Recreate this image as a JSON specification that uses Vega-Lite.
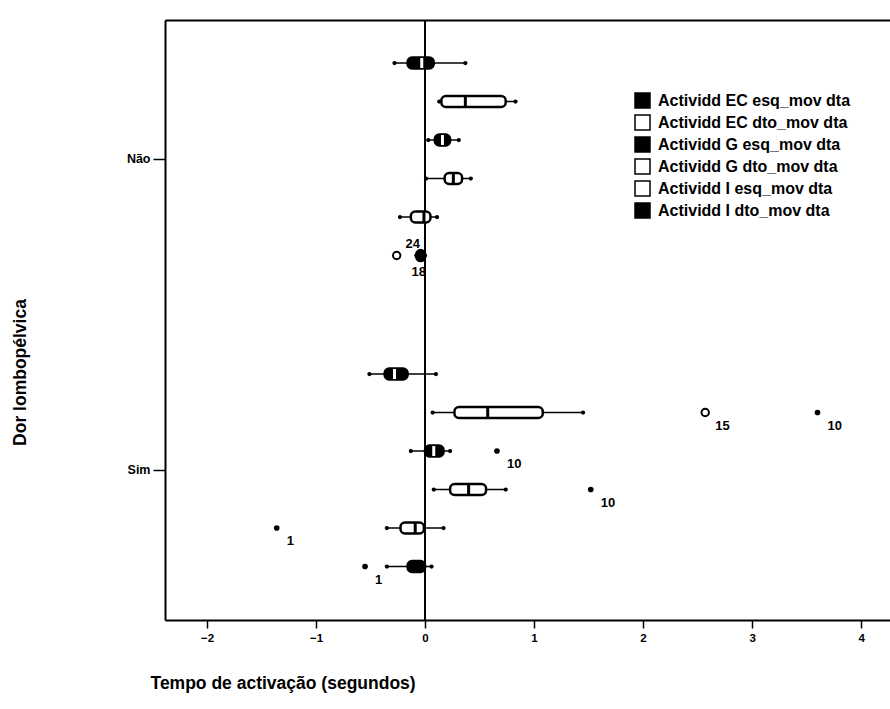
{
  "$schema": "https://vega.github.io/schema/vega-lite/v6.json",
  "width": 725,
  "height": 600,
  "autosize": {"type": "none"},
  "padding": {"left": 165, "top": 20, "right": 0, "bottom": 89},
  "background": "white",
  "config": {
    "font": "Liberation Sans",
    "view": {"stroke": null},
    "axisY": {"domainColor": "black", "domainWidth": 2, "tickColor": "black", "tickWidth": 1.5, "tickSize": 12, "labelFontSize": 12.5, "labelFontWeight": "bold", "labelColor": "black", "labelPadding": 3, "titleFontSize": 17.5, "titleFontWeight": "bold", "titleColor": "black", "titleAngle": -90, "titleX": -145, "titleY": 352, "titleAlign": "center", "titleBaseline": "middle", "grid": false},
    "axisX": {"domainColor": "black", "domainWidth": 2, "tickColor": "black", "tickWidth": 1.5, "tickSize": 8, "labelFontSize": 11.5, "labelFontWeight": "bold", "labelColor": "black", "labelPadding": 4, "titleFontSize": 17.5, "titleFontWeight": "bold", "titleColor": "black", "grid": false}
  },
  "datasets": {
    "boxes": [
      {"grupo": "Não", "serie": "Actividd EC esq_mov dta", "lo": -0.28, "q1": -0.16, "med": -0.03, "q3": 0.08, "hi": 0.37},
      {"grupo": "Não", "serie": "Actividd EC dto_mov dta", "lo": 0.13, "q1": 0.15, "med": 0.37, "q3": 0.74, "hi": 0.83},
      {"grupo": "Não", "serie": "Actividd G esq_mov dta", "lo": 0.03, "q1": 0.09, "med": 0.16, "q3": 0.23, "hi": 0.31},
      {"grupo": "Não", "serie": "Actividd G dto_mov dta", "lo": 0.01, "q1": 0.18, "med": 0.26, "q3": 0.34, "hi": 0.42},
      {"grupo": "Não", "serie": "Actividd I esq_mov dta", "lo": -0.23, "q1": -0.13, "med": -0.01, "q3": 0.05, "hi": 0.11},
      {"grupo": "Não", "serie": "Actividd I dto_mov dta", "lo": -0.08, "q1": -0.08, "med": -0.04, "q3": 0.0, "hi": 0.0},
      {"grupo": "Sim", "serie": "Actividd EC esq_mov dta", "lo": -0.51, "q1": -0.37, "med": -0.28, "q3": -0.16, "hi": 0.1},
      {"grupo": "Sim", "serie": "Actividd EC dto_mov dta", "lo": 0.07, "q1": 0.27, "med": 0.575, "q3": 1.08, "hi": 1.45},
      {"grupo": "Sim", "serie": "Actividd G esq_mov dta", "lo": -0.13, "q1": 0.0, "med": 0.08, "q3": 0.17, "hi": 0.23},
      {"grupo": "Sim", "serie": "Actividd G dto_mov dta", "lo": 0.08, "q1": 0.23, "med": 0.4, "q3": 0.56, "hi": 0.74},
      {"grupo": "Sim", "serie": "Actividd I esq_mov dta", "lo": -0.35, "q1": -0.225, "med": -0.09, "q3": -0.01, "hi": 0.17},
      {"grupo": "Sim", "serie": "Actividd I dto_mov dta", "lo": -0.35, "q1": -0.16, "med": -0.06, "q3": 0.0, "hi": 0.06}
    ],
    "outliers": [
      {"grupo": "Não", "serie": "Actividd I dto_mov dta", "v": -0.26, "tipo": "o", "id": "24"},
      {"grupo": "Não", "serie": "Actividd I dto_mov dta", "v": -0.04, "tipo": "e", "id": "18"},
      {"grupo": "Sim", "serie": "Actividd EC dto_mov dta", "v": 2.57, "tipo": "o", "id": "15"},
      {"grupo": "Sim", "serie": "Actividd EC dto_mov dta", "v": 3.6, "tipo": "e", "id": "10"},
      {"grupo": "Sim", "serie": "Actividd G esq_mov dta", "v": 0.66, "tipo": "e", "id": "10"},
      {"grupo": "Sim", "serie": "Actividd G dto_mov dta", "v": 1.52, "tipo": "e", "id": "10"},
      {"grupo": "Sim", "serie": "Actividd I esq_mov dta", "v": -1.36, "tipo": "e", "id": "1"},
      {"grupo": "Sim", "serie": "Actividd I dto_mov dta", "v": -0.55, "tipo": "e", "id": "1"}
    ]
  },
  "resolve": {"axis": {"x": "independent"}, "scale": {"fill": "independent"}},
  "layer": [
    {
      "data": {"values": [{}]},
      "mark": {"type": "rule", "color": "black", "strokeWidth": 2},
      "encoding": {
        "x": {"datum": 0, "type": "quantitative", "scale": {"domain": [-2.385, 4.265], "nice": false, "zero": false},
              "axis": {"orient": "top", "labels": false, "ticks": false, "title": null, "domain": true}}
      }
    },
    {
      "data": {"name": "boxes"},
      "mark": {"type": "rule", "color": "black", "strokeWidth": 1.5},
      "encoding": {
        "y": {"field": "grupo", "type": "nominal", "sort": ["Não", "Sim"], "title": "Dor lombopélvica", "scale": {"paddingInner": 0.2572, "paddingOuter": 0.0932, "align": 0.41}},
        "yOffset": {"field": "serie", "type": "nominal", "sort": ["Actividd EC esq_mov dta", "Actividd EC dto_mov dta", "Actividd G esq_mov dta", "Actividd G dto_mov dta", "Actividd I esq_mov dta", "Actividd I dto_mov dta"]},
        "x": {"field": "lo", "type": "quantitative",
              "axis": {"orient": "bottom", "values": [-2, -1, 0, 1, 2, 3, 4], "title": "Tempo de activação (segundos)", "titleAnchor": "start", "titleAlign": "left", "titleX": -15, "titleY": 68, "titleBaseline": "alphabetic"}},
        "x2": {"field": "hi"}
      }
    },
    {
      "data": {"name": "boxes"},
      "transform": [{"fold": ["lo", "hi"], "as": ["k", "v"]}],
      "mark": {"type": "point", "filled": true, "color": "black", "size": 18, "opacity": 1},
      "encoding": {
        "y": {"field": "grupo", "type": "nominal", "sort": ["Não", "Sim"], "title": "Dor lombopélvica"},
        "yOffset": {"field": "serie", "type": "nominal", "sort": ["Actividd EC esq_mov dta", "Actividd EC dto_mov dta", "Actividd G esq_mov dta", "Actividd G dto_mov dta", "Actividd I esq_mov dta", "Actividd I dto_mov dta"]},
        "x": {"field": "v", "type": "quantitative", "axis": null}
      }
    },
    {
      "data": {"name": "boxes"},
      "mark": {"type": "bar", "stroke": "black", "strokeWidth": 2.5, "size": 11, "cornerRadius": 4.5},
      "encoding": {
        "y": {"field": "grupo", "type": "nominal", "sort": ["Não", "Sim"], "title": "Dor lombopélvica"},
        "yOffset": {"field": "serie", "type": "nominal", "sort": ["Actividd EC esq_mov dta", "Actividd EC dto_mov dta", "Actividd G esq_mov dta", "Actividd G dto_mov dta", "Actividd I esq_mov dta", "Actividd I dto_mov dta"]},
        "x": {"field": "q1", "type": "quantitative", "axis": null},
        "x2": {"field": "q3"},
        "fill": {"field": "serie", "type": "nominal",
                 "scale": {"domain": ["Actividd EC esq_mov dta", "Actividd EC dto_mov dta", "Actividd G esq_mov dta", "Actividd G dto_mov dta", "Actividd I esq_mov dta", "Actividd I dto_mov dta"],
                           "range": ["#000000", "#ffffff", "#000000", "#ffffff", "#ffffff", "#000000"]},
                 "legend": {"orient": "none", "legendX": 469, "legendY": 72, "title": null, "symbolType": "square", "symbolSize": 225, "symbolStrokeColor": "black", "symbolStrokeWidth": 1.5, "labelFontSize": 16, "labelFontWeight": "bold", "labelColor": "black", "rowPadding": 1, "labelOffset": 7, "labelLimit": 400}}
      }
    },
    {
      "data": {"name": "boxes"},
      "mark": {"type": "tick", "orient": "vertical", "thickness": 3, "size": 10, "opacity": 1},
      "encoding": {
        "y": {"field": "grupo", "type": "nominal", "sort": ["Não", "Sim"], "title": "Dor lombopélvica"},
        "yOffset": {"field": "serie", "type": "nominal", "sort": ["Actividd EC esq_mov dta", "Actividd EC dto_mov dta", "Actividd G esq_mov dta", "Actividd G dto_mov dta", "Actividd I esq_mov dta", "Actividd I dto_mov dta"]},
        "x": {"field": "med", "type": "quantitative", "axis": null},
        "fill": {"field": "serie", "type": "nominal",
                 "scale": {"domain": ["Actividd EC esq_mov dta", "Actividd EC dto_mov dta", "Actividd G esq_mov dta", "Actividd G dto_mov dta", "Actividd I esq_mov dta", "Actividd I dto_mov dta"],
                           "range": ["#ffffff", "#000000", "#ffffff", "#000000", "#000000", "#000000"]},
                 "legend": null}
      }
    },
    {
      "data": {"name": "outliers"},
      "transform": [{"filter": "datum.tipo === 'o'"}],
      "mark": {"type": "point", "shape": "circle", "filled": false, "color": "black", "strokeWidth": 2, "size": 55, "opacity": 1},
      "encoding": {
        "y": {"field": "grupo", "type": "nominal", "sort": ["Não", "Sim"], "title": "Dor lombopélvica"},
        "yOffset": {"field": "serie", "type": "nominal", "sort": ["Actividd EC esq_mov dta", "Actividd EC dto_mov dta", "Actividd G esq_mov dta", "Actividd G dto_mov dta", "Actividd I esq_mov dta", "Actividd I dto_mov dta"]},
        "x": {"field": "v", "type": "quantitative", "axis": null}
      }
    },
    {
      "data": {"name": "outliers"},
      "transform": [{"filter": "datum.tipo === 'e'"}],
      "mark": {"type": "point", "shape": "circle", "filled": true, "color": "black", "size": 32, "opacity": 1},
      "encoding": {
        "y": {"field": "grupo", "type": "nominal", "sort": ["Não", "Sim"], "title": "Dor lombopélvica"},
        "yOffset": {"field": "serie", "type": "nominal", "sort": ["Actividd EC esq_mov dta", "Actividd EC dto_mov dta", "Actividd G esq_mov dta", "Actividd G dto_mov dta", "Actividd I esq_mov dta", "Actividd I dto_mov dta"]},
        "x": {"field": "v", "type": "quantitative", "axis": null}
      }
    },
    {
      "data": {"name": "outliers"},
      "transform": [{"filter": "datum.id !== '24' && datum.id !== '18'"}],
      "mark": {"type": "text", "align": "left", "baseline": "middle", "dx": 10, "dy": 13, "fontSize": 13, "fontWeight": "bold", "color": "black"},
      "encoding": {
        "y": {"field": "grupo", "type": "nominal", "sort": ["Não", "Sim"], "title": "Dor lombopélvica"},
        "yOffset": {"field": "serie", "type": "nominal", "sort": ["Actividd EC esq_mov dta", "Actividd EC dto_mov dta", "Actividd G esq_mov dta", "Actividd G dto_mov dta", "Actividd I esq_mov dta", "Actividd I dto_mov dta"]},
        "x": {"field": "v", "type": "quantitative", "axis": null},
        "text": {"field": "id"}
      }
    },
    {
      "data": {"name": "outliers"},
      "transform": [{"filter": "datum.id === '24'"}],
      "mark": {"type": "text", "align": "center", "baseline": "middle", "dx": 16, "dy": -12, "fontSize": 13, "fontWeight": "bold", "color": "black"},
      "encoding": {
        "y": {"field": "grupo", "type": "nominal", "sort": ["Não", "Sim"], "title": "Dor lombopélvica"},
        "yOffset": {"field": "serie", "type": "nominal", "sort": ["Actividd EC esq_mov dta", "Actividd EC dto_mov dta", "Actividd G esq_mov dta", "Actividd G dto_mov dta", "Actividd I esq_mov dta", "Actividd I dto_mov dta"]},
        "x": {"field": "v", "type": "quantitative", "axis": null},
        "text": {"field": "id"}
      }
    },
    {
      "data": {"name": "outliers"},
      "transform": [{"filter": "datum.id === '18'"}],
      "mark": {"type": "text", "align": "center", "baseline": "middle", "dx": -2, "dy": 16, "fontSize": 13, "fontWeight": "bold", "color": "black"},
      "encoding": {
        "y": {"field": "grupo", "type": "nominal", "sort": ["Não", "Sim"], "title": "Dor lombopélvica"},
        "yOffset": {"field": "serie", "type": "nominal", "sort": ["Actividd EC esq_mov dta", "Actividd EC dto_mov dta", "Actividd G esq_mov dta", "Actividd G dto_mov dta", "Actividd I esq_mov dta", "Actividd I dto_mov dta"]},
        "x": {"field": "v", "type": "quantitative", "axis": null},
        "text": {"field": "id"}
      }
    }
  ]
}
